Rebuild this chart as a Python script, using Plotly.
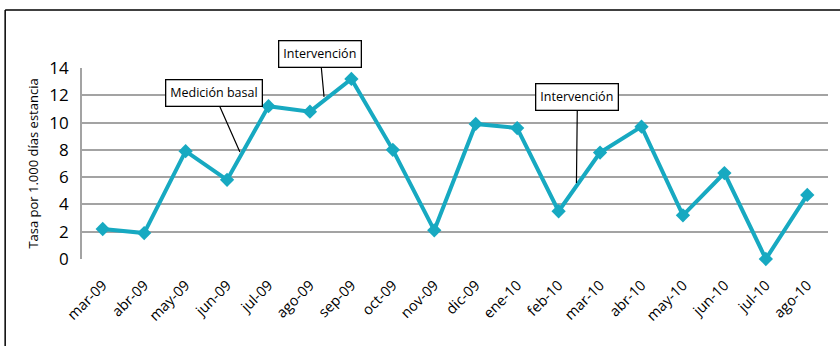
import plotly.graph_objects as go

months = ["mar-09", "abr-09", "may-09", "jun-09", "jul-09", "ago-09", "sep-09", "oct-09", "nov-09",
          "dic-09", "ene-10", "feb-10", "mar-10", "abr-10", "may-10", "jun-10", "jul-10", "ago-10"]
tasa = [2.2, 1.9, 7.9, 5.8, 11.2, 10.8, 13.2, 8.0, 2.1, 9.9, 9.6, 3.5, 7.8, 9.7, 3.2, 6.3, 0.0, 4.7]
y_ticks = [0, 2, 4, 6, 8, 10, 12, 14]

# annotation anchors (category index, value) and labels
ann_labels = ["Medición basal", "Intervención", "Intervención"]
ann_x = [3.31, 5.34, 11.43]
ann_y = [7.84, 11.88, 5.57]
ann_ax = [-26, -4, 1]
ann_ay = [-59, -43, -86]

FONT = "Open Sans"
COLOR = "#17A9C1"

fig = go.Figure()
fig.add_trace(go.Scatter(
    x=list(range(len(months))), y=tasa, mode="lines+markers",
    line=dict(color=COLOR, width=4),
    marker=dict(symbol="diamond", size=11, color=COLOR),
    showlegend=False, cliponaxis=False,
))

for lab, x, y, ax, ay in zip(ann_labels, ann_x, ann_y, ann_ax, ann_ay):
    fig.add_annotation(
        x=x, y=y, xref="x", yref="y", text=lab, showarrow=True,
        arrowhead=0, arrowwidth=1.2, arrowcolor="black",
        ax=ax, ay=ay, bgcolor="white", bordercolor="black", borderwidth=1.3,
        borderpad=4, font=dict(family=FONT, size=12.5, color="black"),
    )

# outer frame: only top and left edges are visible in the cropped reference
fig.add_shape(type="line", xref="paper", yref="paper",
              x0=-0.103, x1=1.1, y0=1.304, y1=1.304,
              line=dict(color="black", width=1.5), layer="below")
fig.add_shape(type="line", xref="paper", yref="paper",
              x0=-0.103, x1=-0.103, y0=1.304, y1=-0.6,
              line=dict(color="black", width=1.5), layer="below")

fig.update_layout(
    width=840, height=346,
    margin=dict(l=82, r=12, t=68, b=87),
    paper_bgcolor="white", plot_bgcolor="white",
    font=dict(family=FONT, color="black"),
    xaxis=dict(range=[-0.5, 17.5], tickvals=list(range(len(months))), ticktext=months,
               tickangle=-45, tickfont=dict(size=14.5), showgrid=False, zeroline=False,
               showline=False, ticks="", ticklabelstandoff=14),
    yaxis=dict(range=[0, 14], tickvals=y_ticks, tickfont=dict(size=17),
               showgrid=True, gridcolor="#a3a3a3", gridwidth=1.8, zeroline=False,
               showline=True, linecolor="#a3a3a3", linewidth=1.8, ticks="",
               ticklabelstandoff=8,
               title=dict(text="Tasa por 1.000 días estancia", font=dict(size=13), standoff=8)),
)

fig.write_html("out.html")
